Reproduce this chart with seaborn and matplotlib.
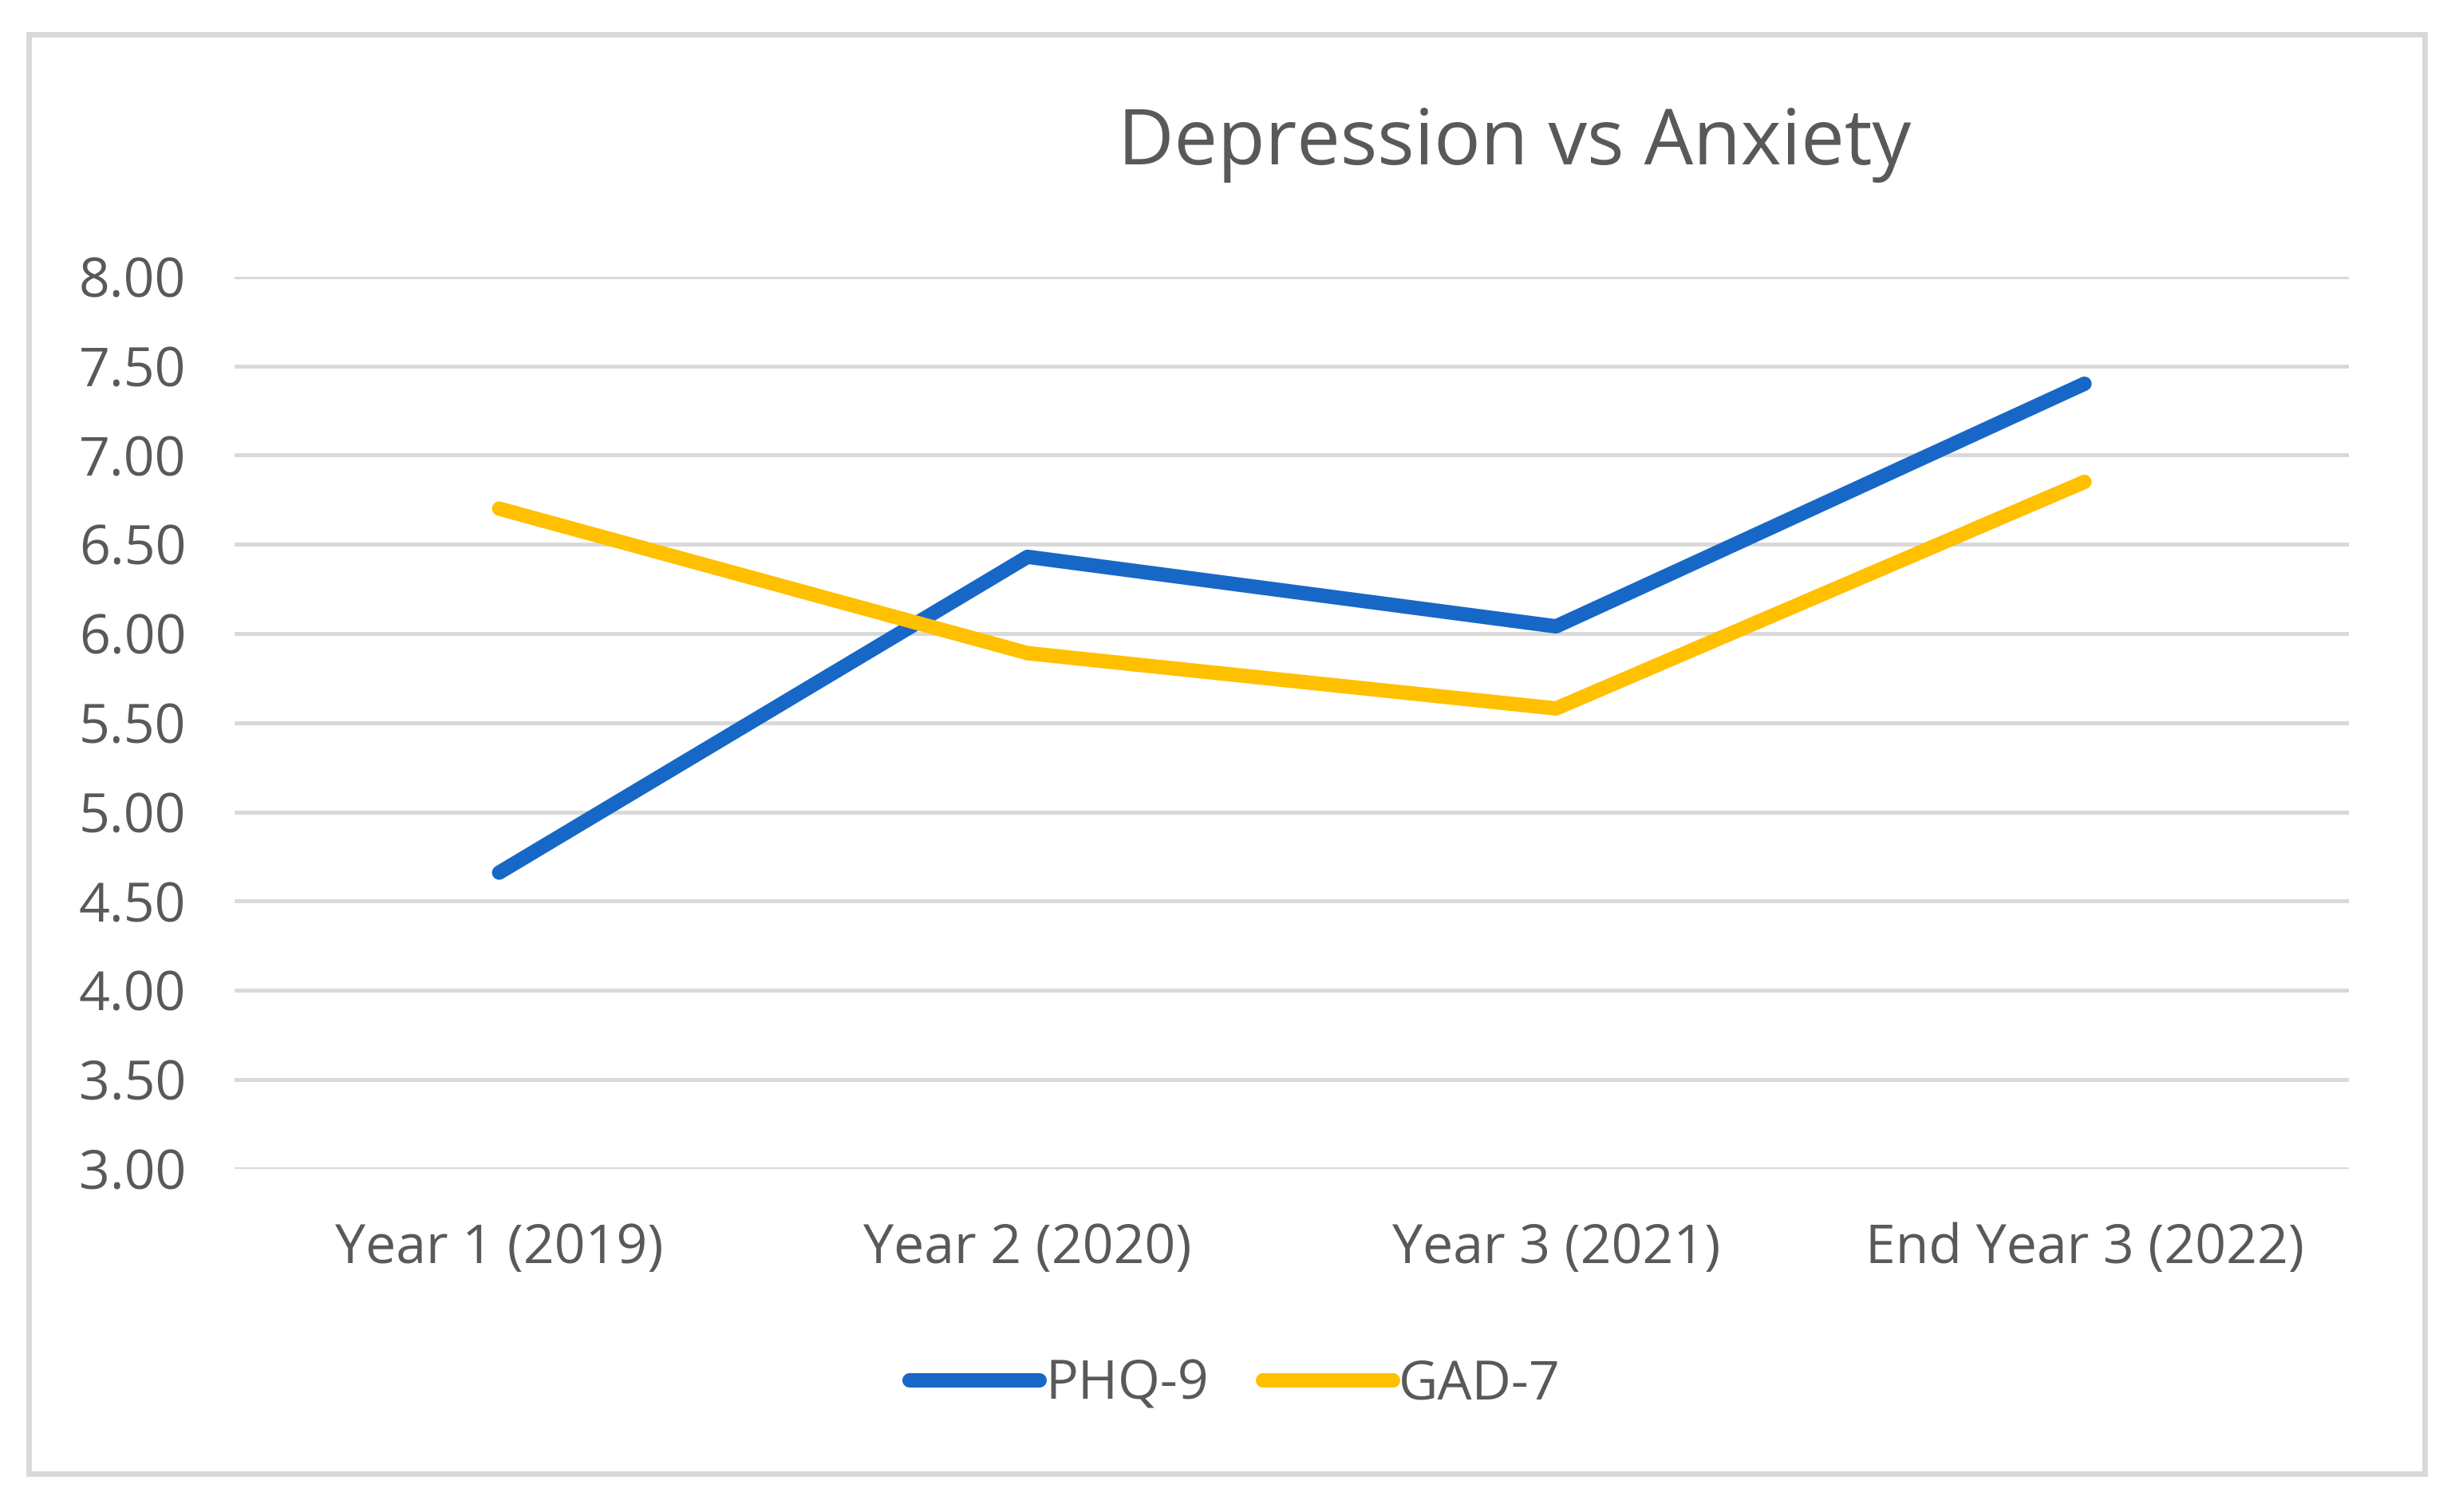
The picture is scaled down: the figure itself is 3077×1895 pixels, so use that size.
import pandas as pd
import matplotlib.pyplot as plt
import matplotlib.patches as mpatches
import seaborn as sns

# values
years = ['Year 1 (2019)', 'Year 2 (2020)', 'Year 3 (2021)', 'End Year 3 (2022)']
phq9 = [4.66, 6.43, 6.04, 7.40]
gad7 = [6.70, 5.89, 5.58, 6.85]
series_names = ['PHQ-9', 'GAD-7']
colors = ['#1767C6', '#FFC000']
y_ticks = [3.0, 3.5, 4.0, 4.5, 5.0, 5.5, 6.0, 6.5, 7.0, 7.5, 8.0]

df = pd.DataFrame({
    'year': years * 2,
    'pos': list(range(len(years))) * 2,
    'score': phq9 + gad7,
    'scale': [series_names[0]] * len(years) + [series_names[1]] * len(years),
})

sns.set_theme(style="white")
plt.rcParams['font.family'] = ['Open Sans', 'DejaVu Sans']
text_col = '#595959'

fig = plt.figure(figsize=(15.385, 9.475), dpi=200)
ax = fig.add_axes([0.0957, 0.227, 0.861, 0.590])

sns.lineplot(data=df, x='pos', y='score', hue='scale', palette=colors,
             linewidth=6.5, ax=ax, legend=False, sort=False)
for ln in ax.get_lines():
    ln.set_solid_capstyle('round')
    ln.set_solid_joinstyle('round')

ax.set_xlim(-0.5, len(years) - 0.5)
ax.set_ylim(3.0, 8.0)
ax.set_yticks(y_ticks)
ax.set_yticklabels([f"{v:.2f}" for v in y_ticks])
ax.set_xticks(range(len(years)))
ax.set_xticklabels(years)
ax.set_xlabel('')
ax.set_ylabel('')
ax.tick_params(axis='both', length=0, labelsize=24.5, labelcolor=text_col)
ax.tick_params(axis='y', pad=22)
ax.tick_params(axis='x', pad=24)
ax.grid(axis='y', color='#D9D9D9', linewidth=1.8)
ax.set_axisbelow(True)
for s in ax.spines.values():
    s.set_visible(False)
ax.patch.set_alpha(0)

fig.text(0.617, 0.905, 'Depression vs Anxiety', ha='center', va='center',
         fontsize=35, color=text_col)

handles = [plt.Line2D([], [], color=c, linewidth=6.5, solid_capstyle='round')
           for c in colors]
fig.legend(handles, series_names, loc='center', bbox_to_anchor=(0.503, 0.084),
           ncol=2, frameon=False, fontsize=24.5, handlelength=2.4,
           handletextpad=0.1, columnspacing=1.0, labelcolor=text_col)

border = mpatches.Rectangle((0.0117, 0.0253), 0.976, 0.952, transform=fig.transFigure,
                            fill=False, edgecolor='#D9D9D9', linewidth=2.5)
fig.patches.append(border)

fig.savefig('out.png', dpi=200, facecolor='white')
